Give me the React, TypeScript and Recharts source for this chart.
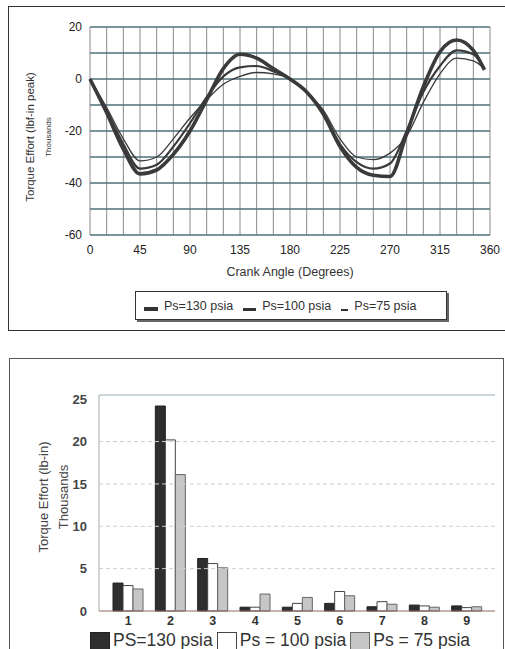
import React from "react";
import {
  LineChart,
  Line,
  BarChart,
  Bar,
  XAxis,
  YAxis,
  CartesianGrid,
  Legend,
  ReferenceLine,
} from "recharts";

// crank angle sweep (degrees)
const angles = [0, 15, 30, 45, 60, 75, 90, 105, 120, 135, 150, 165, 180, 195, 210, 225, 240, 255, 270, 285, 300, 315, 330, 345, 355];
// torque effort, thousands of lbf-in
const torque130 = [0, -13, -27, -36.5, -35, -29, -20, -8, 4, 9.5, 8, 4, 0, -5, -13.5, -26, -34, -37, -37.5, -21, -3, 10.5, 15, 11, 3.5];
const torque100 = [0, -12, -25, -34.5, -33, -26, -17, -7, 1, 4.5, 5, 3, 0, -5, -13, -25, -32, -34.5, -32.5, -20, -5, 5, 11, 9.5, 4];
const torque75 = [0, -11, -23, -31.5, -30, -23, -15, -8, -2, 1, 2.5, 2, 0, -5, -12, -23, -30, -31, -28.5, -22, -9, 2, 8, 7, 4];

// every 15 deg gets a grid line, only multiples of 45 are labelled
const angleTicks = [0, 15, 30, 45, 60, 75, 90, 105, 120, 135, 150, 165, 180, 195, 210, 225, 240, 255, 270, 285, 300, 315, 330, 345, 360];
const torqueTicks = [-60, -50, -40, -30, -20, -10, 0, 10, 20];

// harmonic analysis
const harmonics = ["1", "2", "3", "4", "5", "6", "7", "8", "9"];
const harm130 = [3.3, 24.2, 6.2, 0.45, 0.45, 0.9, 0.5, 0.7, 0.6];
const harm100 = [3.0, 20.2, 5.6, 0.45, 0.9, 2.3, 1.1, 0.6, 0.4];
const harm75 = [2.6, 16.1, 5.1, 2.0, 1.6, 1.8, 0.8, 0.45, 0.5];
const harmTicks = [0, 5, 10, 15, 20, 25];
const harmGrid = [5, 10, 15, 20];

const FONT = "Arial, 'Liberation Sans', sans-serif";

const lineSeries = [
  { key: "p130", name: "Ps=130 psia", width: 3.6, swatch: 14 },
  { key: "p100", name: "Ps=100 psia", width: 2.2, swatch: 13 },
  { key: "p75", name: "Ps=75 psia", width: 1.3, swatch: 7 },
];

const barSeries = [
  { key: "p130", name: "PS=130 psia", fill: "#2e2e2e", stroke: "#222" },
  { key: "p100", name: "Ps = 100 psia", fill: "#ffffff", stroke: "#444" },
  { key: "p75", name: "Ps = 75 psia", fill: "#c6c6c6", stroke: "#666" },
];

const lineData = angles.map((a, i) => ({
  angle: a,
  p130: torque130[i],
  p100: torque100[i],
  p75: torque75[i],
}));

const barData = harmonics.map((h, i) => ({
  h,
  p130: harm130[i],
  p100: harm100[i],
  p75: harm75[i],
}));

function TopYLabel({ viewBox }: any) {
  const cy = viewBox.y + viewBox.height / 2 + 6;
  return (
    <g fontFamily={FONT} fill="#333" textAnchor="middle">
      <text x={30} y={cy} fontSize={11.5} transform={`rotate(-90 30 ${cy})`} dominantBaseline="central">
        Torque Effort (lbf-in peak)
      </text>
      <text x={48} y={cy} fontSize={8} transform={`rotate(-90 48 ${cy})`} dominantBaseline="central">
        Thousands
      </text>
    </g>
  );
}

function BottomYLabel({ viewBox }: any) {
  const cy = viewBox.y + viewBox.height / 2 - 6;
  return (
    <g fontFamily={FONT} fill="#444" textAnchor="middle">
      <text x={43} y={cy} fontSize={13} transform={`rotate(-90 43 ${cy})`} dominantBaseline="central">
        Torque Effort (lb-in)
      </text>
      <text x={63} y={cy} fontSize={13} transform={`rotate(-90 63 ${cy})`} dominantBaseline="central">
        Thousands
      </text>
    </g>
  );
}

function LineLegend() {
  return (
    <div
      style={{
        display: "flex",
        alignItems: "center",
        height: 29,
        boxSizing: "border-box",
        border: "1px solid #333",
        boxShadow: "2px 2px 0 #666",
        background: "#fff",
        paddingLeft: 8,
        fontFamily: FONT,
        fontSize: 12.5,
        color: "#333",
      }}
    >
      {lineSeries.map((s) => (
        <span key={s.key} style={{ display: "flex", alignItems: "flex-end", marginRight: 10 }}>
          <span
            style={{
              display: "inline-block",
              width: s.swatch,
              height: s.width,
              background: "#333",
              marginRight: 6,
              marginBottom: 2,
            }}
          />
          <span>{s.name}</span>
        </span>
      ))}
    </div>
  );
}

function BarLegend() {
  return (
    <div style={{ display: "flex", alignItems: "center", fontFamily: FONT, fontSize: 17.5, color: "#333", whiteSpace: "nowrap" }}>
      {barSeries.map((s) => (
        <span key={s.key} style={{ display: "flex", alignItems: "center", marginRight: 4 }}>
          <span
            style={{
              display: "inline-block",
              width: 18,
              height: 16,
              background: s.fill,
              border: `1px solid ${s.stroke}`,
              marginRight: 3,
            }}
          />
          <span>{s.name}</span>
        </span>
      ))}
    </div>
  );
}

export default function App() {
  return (
    <div style={{ position: "absolute", left: 0, top: 0, width: 505, height: 649, background: "#fff", overflow: "hidden" }}>
      <div style={{ position: "absolute", left: 8, top: 6, width: 500, height: 323, border: "1px solid #333" }} />
      <div style={{ position: "absolute", left: 9, top: 358, width: 493, height: 300, border: "1px solid #555" }} />

      <div style={{ position: "absolute", left: 0, top: 0 }}>
        <LineChart width={505} height={330} data={lineData} margin={{ top: 27, right: 15, bottom: 50, left: 50 }}>
          <CartesianGrid horizontal={false} stroke="#8a8a8a" strokeWidth={1} />
          <CartesianGrid vertical={false} stroke="#4f6f78" strokeWidth={1.3} />
          <XAxis
            dataKey="angle"
            type="number"
            domain={[0, 360]}
            ticks={angleTicks}
            interval={0}
            tickFormatter={(v: number) => (v % 45 === 0 ? String(v) : "")}
            tickLine={false}
            tickSize={0}
            tickMargin={10}
            axisLine={false}
            height={45}
            tick={{ fontSize: 12, fill: "#222", fontFamily: FONT }}
            label={{ value: "Crank Angle (Degrees)", position: "insideBottom", offset: 4, fontSize: 12.5, fill: "#333", fontFamily: FONT }}
          />
          <YAxis
            type="number"
            domain={[-60, 20]}
            ticks={torqueTicks}
            interval={0}
            tickFormatter={(v: number) => (v % 20 === 0 ? String(v) : "")}
            tickLine={false}
            tickSize={0}
            tickMargin={8}
            axisLine={false}
            width={40}
            tick={{ fontSize: 12, fill: "#222", fontFamily: FONT }}
            label={<TopYLabel />}
          />
          {lineSeries.map((s) => (
            <Line
              key={s.key}
              dataKey={s.key}
              name={s.name}
              type="monotone"
              stroke="#3a3a3a"
              strokeWidth={s.width}
              dot={false}
              isAnimationActive={false}
            />
          ))}
          <Legend content={<LineLegend />} wrapperStyle={{ left: 135, top: 291, width: 312, height: 0 }} />
        </LineChart>
      </div>

      <div style={{ position: "absolute", left: 0, top: 340 }}>
        <BarChart width={505} height={309} data={barData} margin={{ top: 55, right: 10, bottom: 8, left: 59 }} barGap={0} barSize={10}>
          {harmGrid.map((g) => (
            <ReferenceLine key={g} y={g} stroke="#cfcfcf" strokeDasharray="4 3" />
          ))}
          <XAxis
            dataKey="h"
            padding={{ left: 8, right: 7 }}
            tickLine={false}
            tickSize={0}
            tickMargin={5}
            height={30}
            axisLine={{ stroke: "#8a6a5a" }}
            tick={{ fontSize: 12.5, fill: "#333", fontFamily: FONT, fontWeight: "bold" }}
          />
          <YAxis
            type="number"
            domain={[0, 25.5]}
            ticks={harmTicks}
            tickLine={false}
            tickSize={0}
            tickMargin={12}
            width={40}
            axisLine={{ stroke: "#aaa" }}
            tick={{ fontSize: 13, fill: "#444", fontFamily: FONT, fontWeight: "bold" }}
            label={<BottomYLabel />}
          />
          <YAxis yAxisId="frame" orientation="right" width={0} domain={[0, 25.5]} tick={false} tickLine={false} axisLine={{ stroke: "#9ab0b8" }} />
          <ReferenceLine y={25.5} stroke="#9ab0b8" />
          {barSeries.map((s) => (
            <Bar key={s.key} dataKey={s.key} name={s.name} fill={s.fill} stroke={s.stroke} strokeWidth={1} isAnimationActive={false} />
          ))}
          <Legend content={<BarLegend />} wrapperStyle={{ left: 90, top: 290, width: 420, height: 0 }} />
        </BarChart>
      </div>
    </div>
  );
}
